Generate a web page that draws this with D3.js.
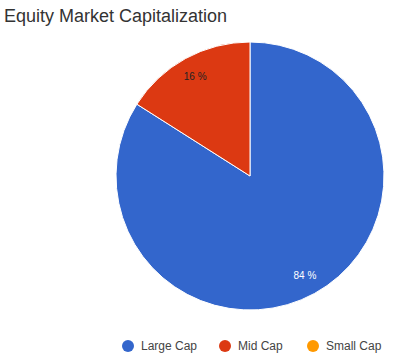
<!DOCTYPE html>
<html>
<head>
<meta charset="utf-8">
<script src="https://cdn.jsdelivr.net/npm/d3@7"></script>
<style>
  body { margin: 0; background: #fff; }
  text { font-family: "Liberation Sans", Arial, sans-serif; }
</style>
</head>
<body>
<div id="chart"></div>
<script>
// equity market cap pie

var categories = ["Large Cap", "Mid Cap", "Small Cap"];
var values = [84, 16, 0];
var colors = ["#3366cc", "#dc3912", "#ff9900"];

var width = 420,
    height = 362;

var svg = d3.select("#chart").append("svg")
    .attr("width", width)
    .attr("height", height);

svg.append("text")
    .attr("x", 4)
    .attr("y", 22)
    .attr("font-size", 18)
    .attr("fill", "#333")
    .text("Equity Market Capitalization");

var cx = 250, cy = 176, r = 134;

var data = categories.map(function(c, i) { return {name: c, value: values[i], color: colors[i]}; });

var pie = d3.pie()
    .sort(null)
    .value(function(d) { return d.value; });

var arc = d3.arc().innerRadius(0).outerRadius(r);
var labelArc = d3.arc().innerRadius(r * 0.85).outerRadius(r * 0.85);

var g = svg.append("g").attr("transform", "translate(" + cx + "," + cy + ")");

var arcs = pie(data).filter(function(d) { return d.data.value > 0; });

g.selectAll("path")
    .data(arcs)
    .enter().append("path")
    .attr("d", arc)
    .attr("fill", function(d) { return d.data.color; })
    .attr("stroke", "#fff")
    .attr("stroke-width", 1);

g.selectAll("text.lbl")
    .data(arcs)
    .enter().append("text")
    .attr("class", "lbl")
    .attr("transform", function(d) { return "translate(" + labelArc.centroid(d) + ")"; })
    .attr("text-anchor", "middle")
    .attr("dy", "0.35em")
    .attr("font-size", 10)
    .attr("fill", function(d, i) { return i == 0 ? "#fff" : "#222"; })
    .text(function(d) { return d.data.value + " %"; });

// legend
var legendX = d3.scalePoint().domain(categories).range([128, 313]);
var legendXs = [128, 225, 313];   // uneven spacing (text widths)

var lg = svg.selectAll("g.legend")
    .data(data)
    .enter().append("g")
    .attr("class", "legend")
    .attr("transform", function(d, i) { return "translate(" + legendXs[i] + ",346)"; });

lg.append("circle")
    .attr("r", 6)
    .attr("fill", function(d) { return d.color; });

lg.append("text")
    .attr("x", 13)
    .attr("dy", "0.35em")
    .attr("font-size", 12)
    .attr("fill", "#444")
    .text(function(d) { return d.name; });
</script>
</body>
</html>
